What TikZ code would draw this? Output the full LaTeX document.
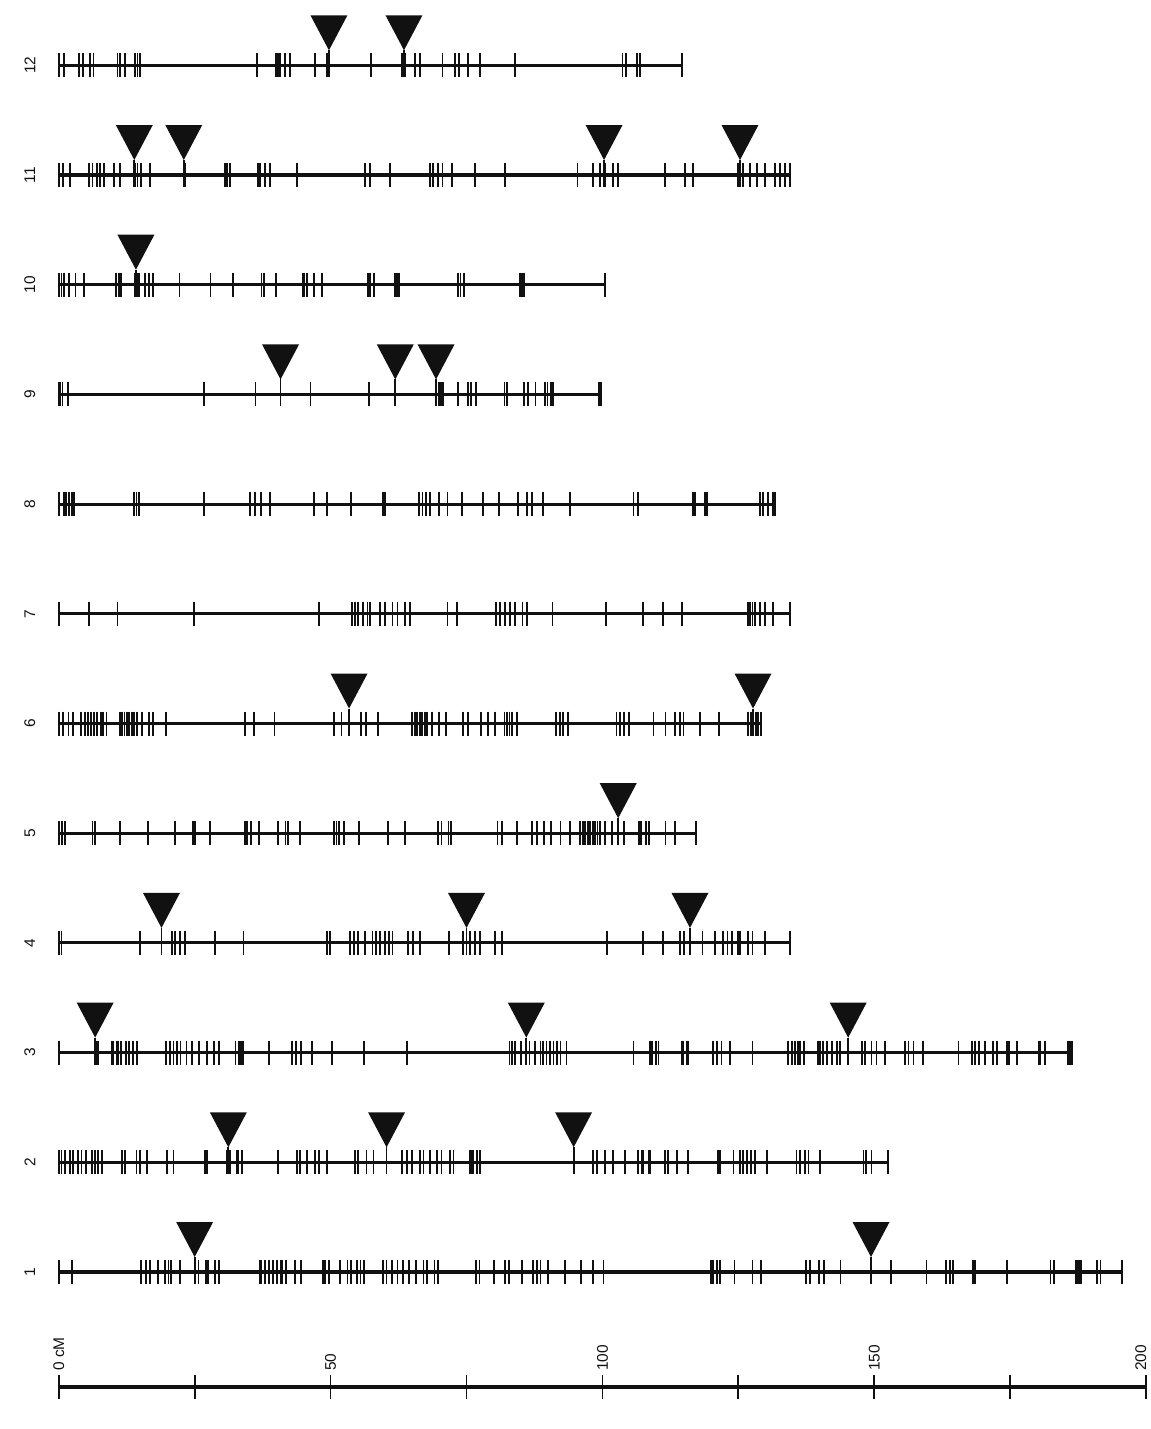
\documentclass[tikz,border=0pt]{standalone}
\usepackage{fontspec}
\setmainfont{Liberation Sans}
\usepackage{tikz}
\definecolor{ink}{HTML}{111111}
\tikzset{
  chromline/.style={draw=ink,line width=2.2pt},
  locus/.style={draw=ink,line width=1.3pt},
  insertion/.style={fill=ink},
  chrlabel/.style={rotate=90,font=\fontsize{11}{13}\selectfont,text=ink,inner sep=0pt},
  scalelabel/.style={chrlabel,anchor=west},
}
% #1 chromosome, #2 length (cM), #3 marker positions (cM)
\newcommand{\chromosome}[3]{%
  \pgfmathsetmacro{\rowy}{1272-109.7*(#1-1)}
  \node[chrlabel] (chr#1) at (-5.3,\rowy) {#1};
  \draw[chromline] (0,\rowy) -- (#2,\rowy);
  \draw[locus] \foreach \m in {0,#2,#3} {(\m,\rowy-12) -- (\m,\rowy+12)};
}

\begin{document}
\begin{tikzpicture}[x=1.35925mm,y=-0.25mm]
\useasboundingbox (-10.8,0) rectangle (200.72,1429);

% linkage groups
\chromosome{12}{114.7}{1,3.7,4.4,5.8,6.4,10.8,11.3,12.2,14.0,14.5,15.0,36.4,40.0,40.3,40.7,41.6,42.5,47.1,49.4,57.5,63.2,63.7,65.5,66.5,70.6,72.9,73.6,75.2,77.5,83.9,103.7,104.4,106.4,106.9}
\chromosome{11}{134.5}{0.8,2.1,5.6,6.2,7.1,7.6,8.3,10.2,11.3,14.0,14.5,15.1,16.8,23.2,30.6,31.0,31.5,36.6,37.0,37.9,38.9,43.9,56.3,57.3,60.9,68.3,68.8,69.7,70.6,72.4,76.6,82.1,95.4,98.2,99.6,100.5,101.9,102.8,111.5,115.2,116.6,124.9,125.3,125.8,127.1,128.5,129.9,131.7,132.7,133.6}
\chromosome{10}{100.4}{0.5,0.9,1.9,3.1,4.6,10.6,11.1,11.5,14.1,14.5,14.8,15.9,16.6,17.3,22.2,27.9,32.1,37.3,37.7,39.9,44.9,45.2,45.6,47.0,48.4,56.9,57.3,58.0,61.9,62.2,62.6,73.5,73.9,74.6,84.8,85.2,85.5}
\chromosome{9}{99.7}{0.3,0.7,1.7,26.7,36.2,40.8,46.3,57.0,61.9,70.0,70.3,70.7,73.5,75.3,75.8,76.7,82.0,82.4,85.5,86.3,87.7,89.4,89.9,90.5,90.9,99.3}
\chromosome{8}{131.7}{1.0,1.4,1.9,2.4,2.8,13.8,14.3,14.8,26.7,35.2,36.1,37.2,38.9,47.0,49.4,53.8,59.6,60.0,66.2,66.9,67.6,68.3,69.9,71.5,74.1,78.0,80.9,84.4,86.2,87.0,89.0,94.0,105.7,106.5,116.6,117.0,118.9,119.3,129.0,129.6,130.4,131.3}
\chromosome{7}{134.5}{5.5,10.8,24.9,47.9,54.0,54.5,55.0,55.9,56.8,57.3,59.1,60.0,61.4,62.3,63.7,64.6,71.5,73.3,80.4,81.2,82.1,83.0,83.9,85.3,86.2,90.8,100.7,107.4,111.1,114.7,126.7,127.2,127.6,128.1,129.0,129.9,131.3}
\chromosome{6}{129.1}{0.8,1.8,2.6,4.1,4.8,5.4,5.9,6.5,7.0,7.7,8.1,8.8,11.2,11.7,12.1,12.6,13.0,13.5,13.9,14.4,15.3,16.6,17.3,19.8,34.3,35.9,39.7,50.7,52.0,55.6,56.5,58.7,65.0,65.5,65.9,66.4,66.8,67.3,67.7,68.6,69.9,71.3,74.4,75.3,77.6,78.9,80.2,82.0,82.5,82.9,83.4,84.3,91.5,92.2,92.8,93.7,102.6,103.3,104.0,104.9,109.4,111.6,113.4,114.3,114.9,117.9,121.5,126.8,127.3,128.2,128.6}
\chromosome{5}{117.2}{0.6,1.2,6.2,6.7,11.3,16.4,21.4,24.7,25.1,27.8,34.3,34.7,35.4,36.8,40.4,41.7,42.2,44.4,50.7,51.1,51.6,52.5,55.2,60.5,63.7,69.8,70.4,71.7,72.2,80.7,81.6,84.3,87.0,87.9,89.2,90.6,92.3,94.1,95.9,96.4,96.8,97.3,97.7,98.2,98.6,99.1,99.5,100.4,101.8,104.0,106.7,107.1,108.0,108.5,111.6,113.4}
\chromosome{4}{134.5}{0.5,15.0,20.9,21.4,22.3,23.2,28.7,34.0,49.4,49.9,53.6,54.3,55.0,56.3,57.7,58.4,59.1,60.0,60.7,61.4,64.2,65.1,66.5,71.8,74.3,75.6,76.6,77.5,80.2,81.6,100.9,107.4,111.1,114.3,115.0,118.4,120.7,122.1,123.0,123.9,124.9,125.3,126.7,127.6,129.9}
\chromosome{3}{186.3}{7.0,7.3,9.7,10.0,10.7,11.0,11.4,12.4,13.0,13.7,14.4,19.8,20.4,21.1,21.8,22.4,23.5,24.5,25.8,27.2,28.5,29.5,32.5,33.2,33.5,33.9,38.6,42.9,43.6,44.6,46.6,50.3,56.1,64.1,82.9,83.3,83.9,85.0,86.6,87.6,88.6,89.0,89.7,90.3,91.0,91.7,92.3,93.4,105.7,108.8,109.1,109.9,110.3,114.6,114.9,115.5,115.8,120.4,121.0,121.9,123.5,127.6,134.2,134.8,135.4,136.0,136.4,137.0,139.7,140.0,140.6,141.3,142.2,143.1,143.7,147.7,148.3,149.5,150.4,152.0,155.7,156.3,157.2,159.0,165.5,167.9,168.5,169.2,170.4,171.9,172.5,174.4,174.7,176.2,180.2,180.5,181.4,185.7,186.0}
\chromosome{2}{152.5}{0.5,1.2,2.0,2.7,3.6,4.2,5.0,6.1,6.7,7.3,7.9,11.6,12.2,14.3,15.0,16.2,19.9,21.1,26.9,27.2,30.9,31.5,32.7,33.0,33.7,40.4,43.8,44.4,45.6,47.1,47.8,49.3,54.5,55.1,56.6,57.9,60.3,63.1,64.0,64.9,66.5,67.1,68.3,69.5,70.4,72.0,72.6,75.7,76.0,76.3,76.9,77.5,94.7,98.3,99.0,100.5,102.0,104.2,106.6,107.2,107.5,108.5,108.8,111.5,112.1,113.7,115.8,121.3,121.6,124.1,125.3,125.9,126.6,127.3,128.1,130.2,135.7,136.4,137.3,137.9,140.0,148.0,148.4,149.5}
\chromosome{1}{195.6}{2.5,15.1,16.1,16.8,18.2,19.6,20.2,20.6,22.3,25.7,27.1,27.4,28.8,29.5,37.0,37.3,38.0,38.7,39.4,40.1,40.8,41.1,41.8,43.5,44.5,48.6,49.0,49.7,51.7,53.1,53.8,54.8,55.5,56.2,59.6,60.3,61.3,62.3,63.3,64.4,65.7,67.1,67.8,69.1,69.8,76.7,77.4,80.1,82.1,82.8,85.2,87.3,88.0,88.6,90.0,93.1,96.0,98.3,100.2,120.0,120.3,121.0,121.6,124.3,127.6,129.2,137.5,138.1,139.8,140.8,143.8,149.4,153.0,159.6,163.2,163.9,164.5,168.2,168.5,174.4,182.4,183.0,187.0,187.3,187.6,188.0,190.9,191.6}

% insertion sites: chromosome/position
\foreach \r/\c in {12/49.7,12/63.5,11/13.9,11/23.0,11/100.3,11/125.3,10/14.2,9/40.8,9/61.9,9/69.4,6/53.4,6/127.7,5/102.9,4/18.9,4/75.0,4/116.1,3/6.7,3/86.0,3/145.2,2/31.2,2/60.3,2/94.7,1/25.0,1/149.4}{
  \pgfmathsetmacro{\rowy}{1272-109.7*(\r-1)}
  \fill[insertion] (\c,\rowy-15) -- (\c-3.4,\rowy-50) -- (\c+3.4,\rowy-50) -- cycle;
  \draw[locus] (\c,\rowy-15) -- (\c,\rowy+12);
}

% scale bar
\draw[chromline] (0,1387) -- (200,1387);
\draw[locus] \foreach \s in {0,25,...,200} {(\s,1375) -- (\s,1399)};
\foreach \s/\txt in {0/0 cM,50/50,100/100,150/150}
  \node[scalelabel] (cm\s) at (\s,1371) {\txt};
\node[scalelabel] (cm200) at (199.0,1371) {200};

\end{tikzpicture}
\end{document}
